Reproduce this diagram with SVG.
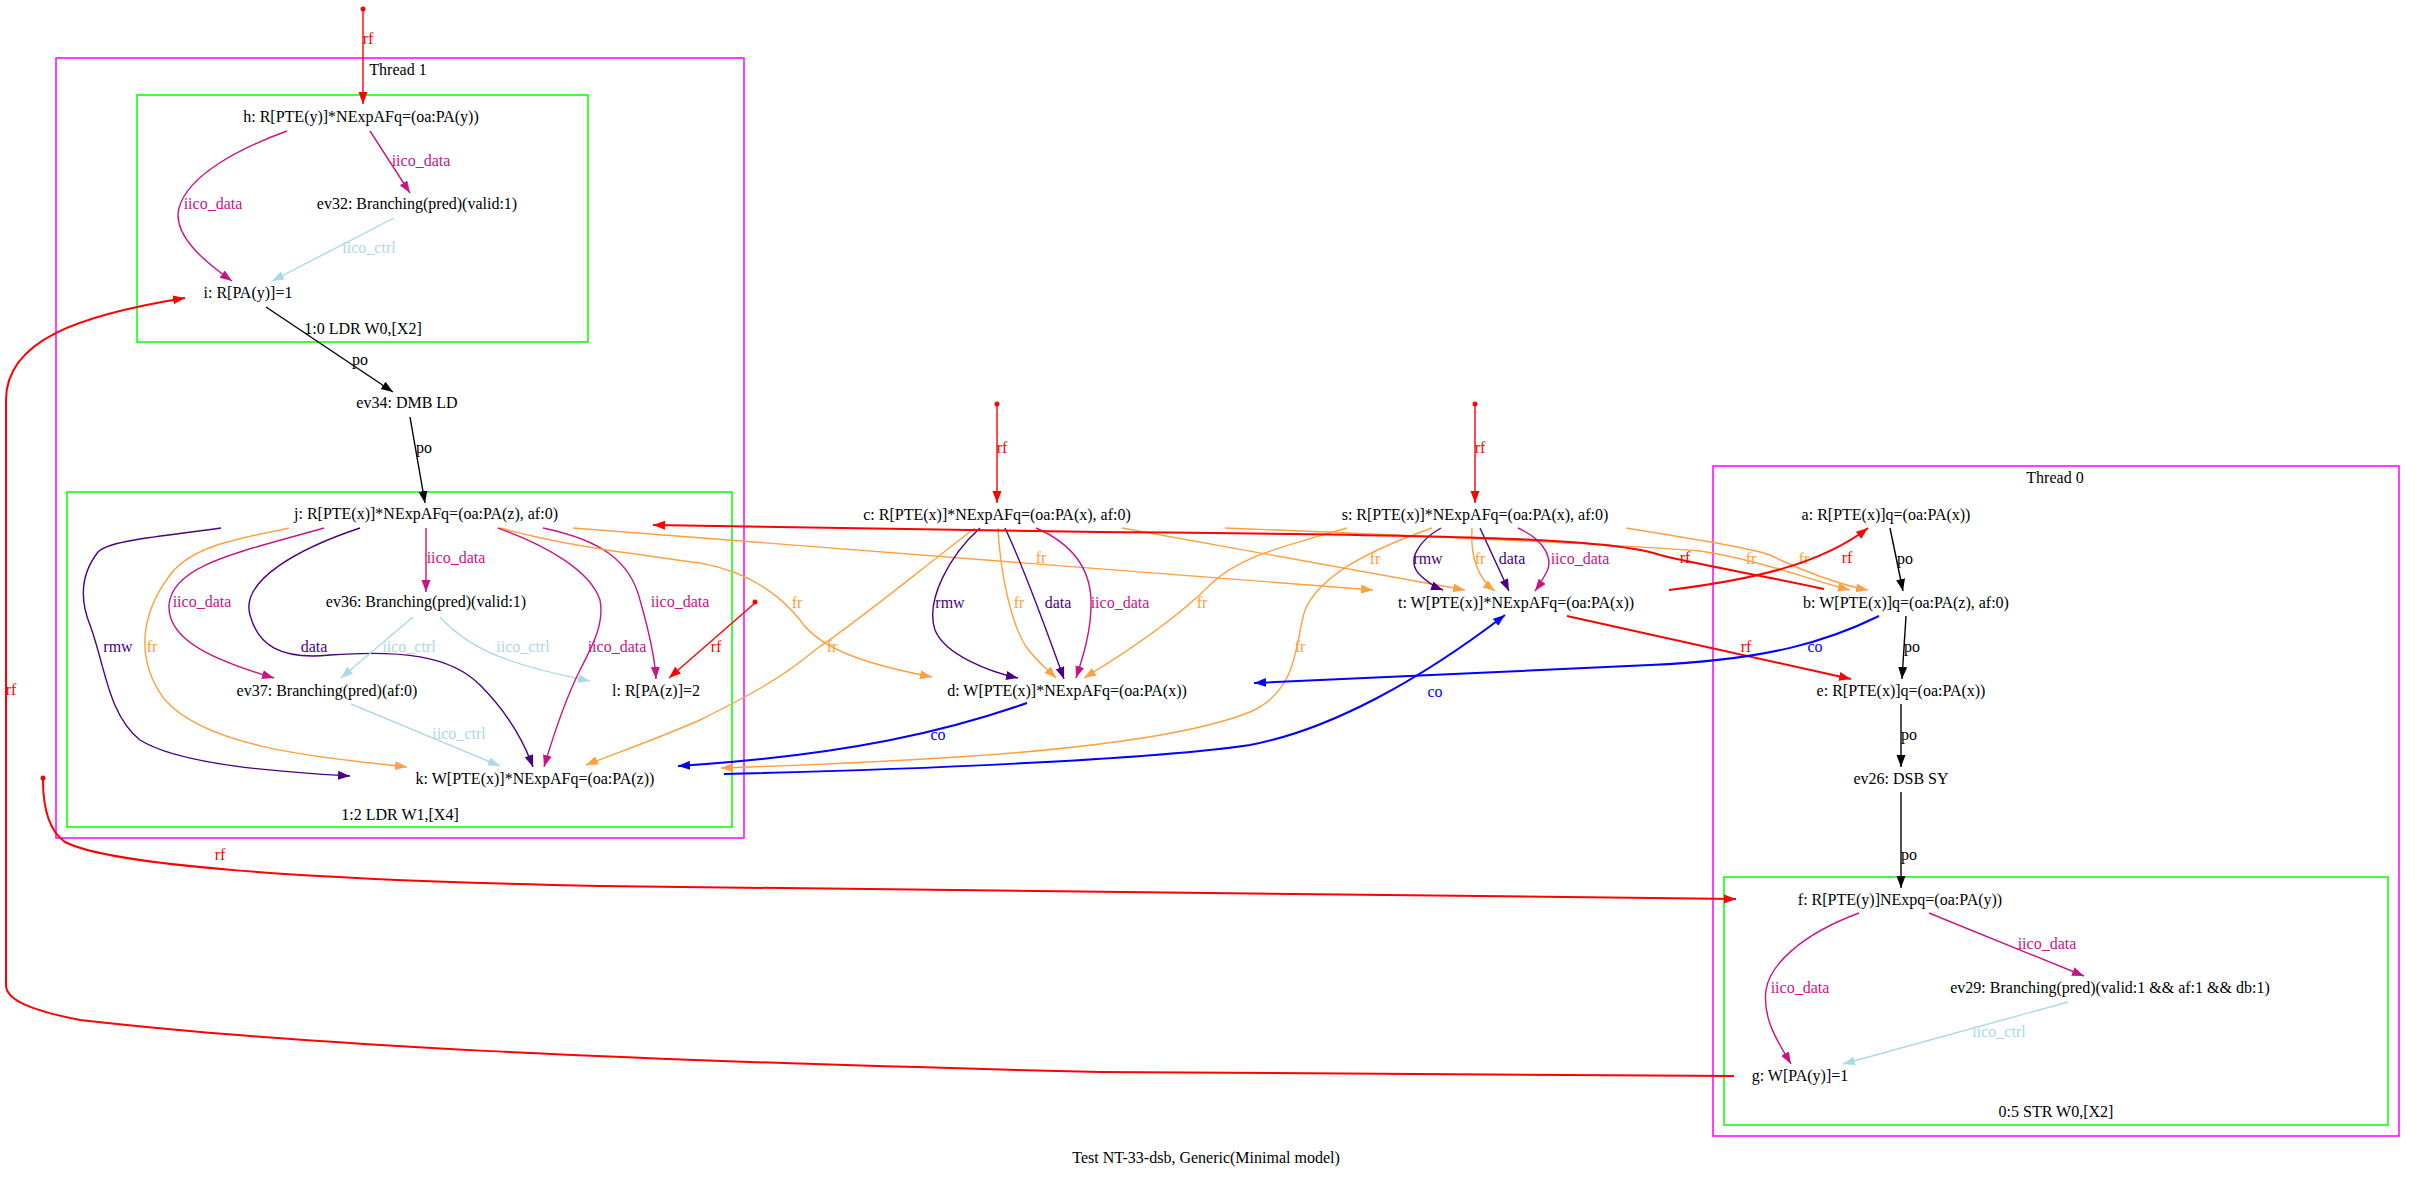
<svg xmlns="http://www.w3.org/2000/svg" width="2415" height="1177" viewBox="0 0 2415 1177">
<style>
text { font-family: "Liberation Serif", "Times New Roman", serif; font-size: 16px; text-anchor: middle; }
.n { fill: #000; }
.e { fill: none; stroke-width: 1.4; }
.w { stroke-width: 2; }
.rf { stroke: #FF0000; } .trf { fill: #FF0000; }
.po { stroke: #000000; } .tpo { fill: #000000; }
.id { stroke: #C71585; } .tid { fill: #C71585; }
.ic { stroke: #ADD8E6; } .tic { fill: #ADD8E6; }
.in { stroke: #4B0082; } .tin { fill: #4B0082; }
.fr { stroke: #FFA040; } .tfr { fill: #FFA040; }
.co { stroke: #0000FF; } .tco { fill: #0000FF; }
.thr { fill: none; stroke: #FF00FF; stroke-width: 1.5; }
.ins { fill: none; stroke: #00FF00; stroke-width: 1.5; }
.dot { fill: #FF0000; }
</style>
<defs>
<marker id="a-red" markerUnits="userSpaceOnUse" markerWidth="13" markerHeight="10" refX="12" refY="4.5" orient="auto"><path d="M0,0 L12,4.5 L0,9 z" fill="#FF0000"/></marker>
<marker id="a-black" markerUnits="userSpaceOnUse" markerWidth="13" markerHeight="10" refX="12" refY="4.5" orient="auto"><path d="M0,0 L12,4.5 L0,9 z" fill="#000000"/></marker>
<marker id="a-vio" markerUnits="userSpaceOnUse" markerWidth="13" markerHeight="10" refX="12" refY="4.5" orient="auto"><path d="M0,0 L12,4.5 L0,9 z" fill="#C71585"/></marker>
<marker id="a-lb" markerUnits="userSpaceOnUse" markerWidth="13" markerHeight="10" refX="12" refY="4.5" orient="auto"><path d="M0,0 L12,4.5 L0,9 z" fill="#ADD8E6"/></marker>
<marker id="a-ind" markerUnits="userSpaceOnUse" markerWidth="13" markerHeight="10" refX="12" refY="4.5" orient="auto"><path d="M0,0 L12,4.5 L0,9 z" fill="#4B0082"/></marker>
<marker id="a-or" markerUnits="userSpaceOnUse" markerWidth="13" markerHeight="10" refX="12" refY="4.5" orient="auto"><path d="M0,0 L12,4.5 L0,9 z" fill="#FFA040"/></marker>
<marker id="a-blue" markerUnits="userSpaceOnUse" markerWidth="13" markerHeight="10" refX="12" refY="4.5" orient="auto"><path d="M0,0 L12,4.5 L0,9 z" fill="#0000FF"/></marker>
</defs>
<rect width="2415" height="1177" fill="#FFFFFF"/>

<g id="clusters">
<g id="thread1"><rect class="thr" x="56" y="58" width="688" height="780"/><text class="n" x="398" y="75">Thread 1</text></g>
<g id="cl_1_0"><rect class="ins" x="137" y="95" width="451" height="247"/><text class="n" x="363" y="334">1:0 LDR W0,[X2]</text></g>
<g id="cl_1_2"><rect class="ins" x="67" y="492" width="665" height="335"/><text class="n" x="400" y="820">1:2 LDR W1,[X4]</text></g>
<g id="thread0"><rect class="thr" x="1713" y="466" width="686" height="670"/><text class="n" x="2055" y="483">Thread 0</text></g>
<g id="cl_0_5"><rect class="ins" x="1724" y="877" width="664" height="248"/><text class="n" x="2056" y="1117">0:5 STR W0,[X2]</text></g>
</g>

<g id="nodes">
<g id="h"><text class="n" x="361" y="122">h: R[PTE(y)]*NExpAFq=(oa:PA(y))</text></g>
<g id="ev32"><text class="n" x="417" y="209">ev32: Branching(pred)(valid:1)</text></g>
<g id="i"><text class="n" x="248" y="298">i: R[PA(y)]=1</text></g>
<g id="ev34"><text class="n" x="407" y="408">ev34: DMB LD</text></g>
<g id="j"><text class="n" x="426" y="519">j: R[PTE(x)]*NExpAFq=(oa:PA(z), af:0)</text></g>
<g id="ev36"><text class="n" x="426" y="607">ev36: Branching(pred)(valid:1)</text></g>
<g id="ev37"><text class="n" x="327" y="696">ev37: Branching(pred)(af:0)</text></g>
<g id="l"><text class="n" x="656" y="696">l: R[PA(z)]=2</text></g>
<g id="k"><text class="n" x="535" y="784">k: W[PTE(x)]*NExpAFq=(oa:PA(z))</text></g>
<g id="c"><text class="n" x="997" y="520">c: R[PTE(x)]*NExpAFq=(oa:PA(x), af:0)</text></g>
<g id="d"><text class="n" x="1067" y="696">d: W[PTE(x)]*NExpAFq=(oa:PA(x))</text></g>
<g id="s"><text class="n" x="1475" y="520">s: R[PTE(x)]*NExpAFq=(oa:PA(x), af:0)</text></g>
<g id="t"><text class="n" x="1516" y="608">t: W[PTE(x)]*NExpAFq=(oa:PA(x))</text></g>
<g id="a"><text class="n" x="1886" y="520">a: R[PTE(x)]q=(oa:PA(x))</text></g>
<g id="b"><text class="n" x="1906" y="608">b: W[PTE(x)]q=(oa:PA(z), af:0)</text></g>
<g id="e"><text class="n" x="1901" y="696">e: R[PTE(x)]q=(oa:PA(x))</text></g>
<g id="ev26"><text class="n" x="1901" y="784">ev26: DSB SY</text></g>
<g id="f"><text class="n" x="1900" y="905">f: R[PTE(y)]NExpq=(oa:PA(y))</text></g>
<g id="ev29"><text class="n" x="2110" y="993">ev29: Branching(pred)(valid:1 &amp;&amp; af:1 &amp;&amp; db:1)</text></g>
<g id="g"><text class="n" x="1800" y="1081">g: W[PA(y)]=1</text></g>
<g id="init1"><circle class="dot" cx="363" cy="9" r="2.5"/></g>
<g id="init2"><circle class="dot" cx="997" cy="404" r="2.5"/></g>
<g id="init3"><circle class="dot" cx="1475" cy="404" r="2.5"/></g>
<g id="init4"><circle class="dot" cx="755" cy="602" r="2.5"/></g>
<g id="init5"><circle class="dot" cx="43" cy="778" r="2.5"/></g>
</g>

<g id="edges">
<g><path class="e rf" d="M363,10 L363,104" marker-end="url(#a-red)"/><text class="trf" x="368" y="44">rf</text></g>
<g><path class="e id" d="M370,131 L410,193" marker-end="url(#a-vio)"/><text class="tid" x="421" y="166">iico_data</text></g>
<g><path class="e id" d="M287,131 C240,148 188,175 179,208 C172,235 205,262 232,281" marker-end="url(#a-vio)"/><text class="tid" x="213" y="209">iico_data</text></g>
<g><path class="e ic" d="M394,218 L272,281" marker-end="url(#a-lb)"/><text class="tic" x="369" y="253">iico_ctrl</text></g>
<g><path class="e po" d="M266,307 L393,392" marker-end="url(#a-black)"/><text class="tpo" x="360" y="365">po</text></g>
<g><path class="e po" d="M410,417 L425,503" marker-end="url(#a-black)"/><text class="tpo" x="424" y="453">po</text></g>
<g><path class="e id" d="M426,528 L426,592" marker-end="url(#a-vio)"/><text class="tid" x="456" y="563">iico_data</text></g>
<g><path class="e id" d="M324,528 C240,552 172,565 169,605 C167,642 220,662 274,678" marker-end="url(#a-vio)"/><text class="tid" x="202" y="607">iico_data</text></g>
<g><path class="e in" d="M221,528 C160,537 110,540 98,552 C80,575 80,600 90,625 C105,665 108,715 140,740 C180,765 280,772 350,776" marker-end="url(#a-ind)"/><text class="tin" x="118" y="652">rmw</text></g>
<g><path class="e fr" d="M289,528 C230,540 190,548 170,575 C140,615 135,660 165,700 C210,750 330,758 407,767" marker-end="url(#a-or)"/><text class="tfr" x="152" y="652">fr</text></g>
<g><path class="e in" d="M360,528 C300,548 240,580 250,615 C258,645 280,660 330,655 C400,650 450,655 480,685 C510,715 525,745 533,767" marker-end="url(#a-ind)"/><text class="tin" x="314" y="652">data</text></g>
<g><path class="e ic" d="M413,617 L341,678" marker-end="url(#a-lb)"/><text class="tic" x="409" y="652">iico_ctrl</text></g>
<g><path class="e ic" d="M440,617 C470,650 510,665 590,681" marker-end="url(#a-lb)"/><text class="tic" x="523" y="652">iico_ctrl</text></g>
<g><path class="e id" d="M498,528 C545,545 590,570 600,600 C605,625 590,650 580,670 C565,700 552,740 544,767" marker-end="url(#a-vio)"/><text class="tid" x="617" y="652">iico_data</text></g>
<g><path class="e id" d="M543,528 C600,540 630,560 640,600 C650,635 655,660 656,679" marker-end="url(#a-vio)"/><text class="tid" x="680" y="607">iico_data</text></g>
<g><path class="e rf" d="M755,603 L669,678" marker-end="url(#a-red)"/><text class="trf" x="716" y="652">rf</text></g>
<g><path class="e ic" d="M351,704 L500,766" marker-end="url(#a-lb)"/><text class="tic" x="459" y="739">iico_ctrl</text></g>
<g><path class="e fr" d="M573,528 L1373,590" marker-end="url(#a-or)"/><text class="tfr" x="1041" y="563">fr</text></g>
<g><path class="e fr" d="M501,528 C560,545 640,555 700,563 C750,572 780,595 800,620 C820,650 870,665 932,677" marker-end="url(#a-or)"/><text class="tfr" x="797" y="608">fr</text></g>
<g><path class="e rf" d="M997,405 L997,503" marker-end="url(#a-red)"/><text class="trf" x="1002" y="453">rf</text></g>
<g><path class="e in" d="M980,528 C950,555 925,600 935,630 C945,655 990,672 1018,678" marker-end="url(#a-ind)"/><text class="tin" x="950" y="608">rmw</text></g>
<g><path class="e fr" d="M998,528 C1000,570 1010,620 1025,645 C1035,660 1048,670 1056,678" marker-end="url(#a-or)"/><text class="tfr" x="1019" y="608">fr</text></g>
<g><path class="e in" d="M1005,528 C1025,570 1050,640 1064,679" marker-end="url(#a-ind)"/><text class="tin" x="1058" y="608">data</text></g>
<g><path class="e id" d="M1036,528 C1075,545 1090,570 1091,600 C1092,630 1082,660 1076,678" marker-end="url(#a-vio)"/><text class="tid" x="1120" y="608">iico_data</text></g>
<g><path class="e fr" d="M975,528 C920,570 860,620 815,650 C780,680 740,700 700,720 C650,742 610,755 586,765" marker-end="url(#a-or)"/><text class="tfr" x="832" y="652">fr</text></g>
<g><path class="e fr" d="M1122,528 L1465,590" marker-end="url(#a-or)"/><text class="tfr" x="1375" y="564">fr</text></g>
<g><path class="e fr" d="M1225,528 C1400,535 1600,543 1700,551 C1760,560 1810,580 1850,590" marker-end="url(#a-or)"/><text class="tfr" x="1751" y="564">fr</text></g>
<g><path class="e rf" d="M1475,405 L1475,503" marker-end="url(#a-red)"/><text class="trf" x="1480" y="453">rf</text></g>
<g><path class="e fr" d="M1347,528 C1290,545 1240,555 1210,585 C1180,615 1130,650 1084,678" marker-end="url(#a-or)"/><text class="tfr" x="1202" y="608">fr</text></g>
<g><path class="e fr" d="M1432,528 C1370,550 1320,575 1305,610 C1295,640 1300,690 1250,712 C1150,752 900,762 721,768" marker-end="url(#a-or)"/><text class="tfr" x="1300" y="652">fr</text></g>
<g><path class="e in" d="M1441,528 C1420,540 1405,560 1420,575 C1428,583 1435,587 1443,590" marker-end="url(#a-ind)"/><text class="tin" x="1428" y="564">rmw</text></g>
<g><path class="e fr" d="M1472,528 C1470,560 1480,580 1495,591" marker-end="url(#a-or)"/><text class="tfr" x="1480" y="564">fr</text></g>
<g><path class="e in" d="M1480,528 L1509,591" marker-end="url(#a-ind)"/><text class="tin" x="1512" y="564">data</text></g>
<g><path class="e id" d="M1518,528 C1545,540 1555,560 1545,575 C1541,582 1538,587 1535,591" marker-end="url(#a-vio)"/><text class="tid" x="1580" y="564">iico_data</text></g>
<g><path class="e fr" d="M1626,528 C1700,540 1750,548 1770,555 C1800,570 1840,585 1868,590" marker-end="url(#a-or)"/><text class="tfr" x="1804" y="564">fr</text></g>
<g><path class="e w rf" d="M1824,589 C1760,575 1700,565 1660,555 C1620,540 1500,535 1100,532 L653,525" marker-end="url(#a-red)"/><text class="trf" x="1685" y="563">rf</text></g>
<g><path class="e w rf" d="M1669,590 C1750,580 1820,565 1868,528" marker-end="url(#a-red)"/><text class="trf" x="1847" y="563">rf</text></g>
<g><path class="e w rf" d="M1567,616 L1851,679" marker-end="url(#a-red)"/><text class="trf" x="1746" y="652">rf</text></g>
<g><path class="e w co" d="M1879,616 C1830,640 1770,660 1650,665 C1500,672 1350,678 1254,683" marker-end="url(#a-blue)"/><text class="tco" x="1815" y="652">co</text></g>
<g><path class="e w co" d="M1027,703 C950,730 850,755 678,766" marker-end="url(#a-blue)"/><text class="tco" x="938" y="740">co</text></g>
<g><path class="e w co" d="M724,774 C900,770 1150,760 1250,745 C1330,730 1420,680 1505,615" marker-end="url(#a-blue)"/><text class="tco" x="1435" y="697">co</text></g>
<g><path class="e po" d="M1890,528 L1903,591" marker-end="url(#a-black)"/><text class="tpo" x="1905" y="564">po</text></g>
<g><path class="e po" d="M1906,616 L1902,679" marker-end="url(#a-black)"/><text class="tpo" x="1912" y="652">po</text></g>
<g><path class="e po" d="M1901,704 L1901,767" marker-end="url(#a-black)"/><text class="tpo" x="1909" y="740">po</text></g>
<g><path class="e po" d="M1901,792 L1901,888" marker-end="url(#a-black)"/><text class="tpo" x="1909" y="860">po</text></g>
<g><path class="e id" d="M1929,913 L2084,976" marker-end="url(#a-vio)"/><text class="tid" x="2047" y="949">iico_data</text></g>
<g><path class="e id" d="M1859,913 C1800,935 1770,965 1766,990 C1762,1020 1780,1045 1791,1064" marker-end="url(#a-vio)"/><text class="tid" x="1800" y="993">iico_data</text></g>
<g><path class="e ic" d="M2068,1002 L1843,1064" marker-end="url(#a-lb)"/><text class="tic" x="1999" y="1037">iico_ctrl</text></g>
<g><path class="e w rf" d="M43,780 C43,805 48,830 65,842 C110,865 300,880 600,886 C900,892 1300,896 1736,899" marker-end="url(#a-red)"/><text class="trf" x="220" y="860">rf</text></g>
<g><path class="e w rf" d="M1734,1076 L1100,1072 C600,1060 300,1045 80,1020 C30,1010 6,1000 6,985 L6,400 C6,340 80,315 185,298" marker-end="url(#a-red)"/><text class="trf" x="11" y="695">rf</text></g>
</g>

<text class="n" x="1206" y="1163">Test NT-33-dsb, Generic(Minimal model)</text>
</svg>
